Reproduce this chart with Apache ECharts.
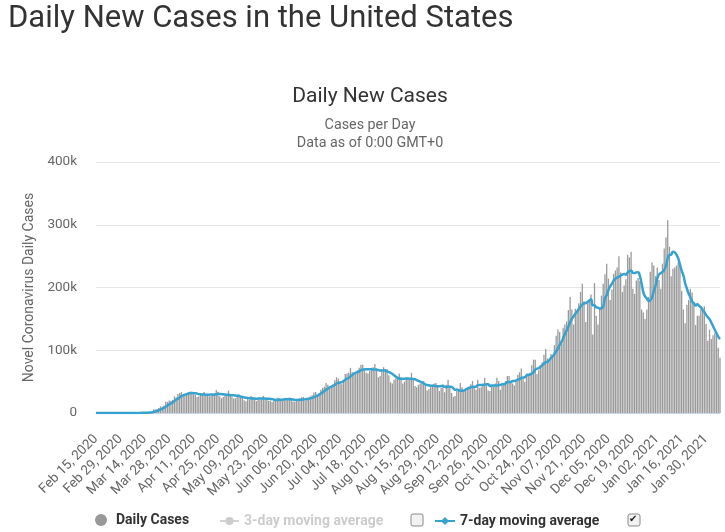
<!DOCTYPE html>
<html>
<head>
<meta charset="utf-8">
<script src="https://cdn.jsdelivr.net/npm/echarts/dist/echarts.min.js"></script>
<style>
html,body{margin:0;padding:0;background:#fff;}
#chart{width:725px;height:532px;}
</style>
</head>
<body>
<div id="chart"></div>
<script>
// Daily new cases (thousands), by month
const cases2020Feb = [0,0,0,0,0,0,0,0,0,0.02,0,0,0,0.01,0.01];
const cases2020Mar = [0.01,0.02,0.02,0.03,0.07,0.05,0.14,0.12,0.07,0.38,0.32,0.38,0.52,0.55,0.77,1.1,1.8,1.4,5.9,5.4,6.4,7.8,10.6,9.9,12.0,18.1,17.8,19.8,19.4,20.9,26.4];
const cases2020Apr = [25.2,30.4,31.8,33.3,28.2,29.6,32.0,32.3,34.0,33.7,29.9,28.9,25.3,26.6,30.5,31.2,33.3,29.0,27.6,26.7,27.4,29.3,31.9,36.6,34.0,26.8,23.5,25.9,27.8,29.3];
const cases2020May = [35.8,29.5,25.3,23.1,23.7,25.4,29.0,27.2,25.4,20.3,18.8,22.7,20.9,27.6,25.4,24.7,18.9,22.6,21.4,21.8,27.4,24.3,23.0,19.6,19.5,17.6,19.3,22.3,24.3,24.1,20.6];
const cases2020Jun = [20.9,21.3,20.4,21.4,24.9,23.0,18.5,17.8,19.6,22.0,23.0,25.0,25.6,19.5,20.8,23.7,26.5,28.1,32.6,33.4,27.5,31.6,37.0,40.0,42.0,48.0,45.0,41.2,40.0,46.0];
const cases2020Jul = [52,57,55,48,46,52,62,63,64,72,65,61,63,68,72,77,77,68,64,63,67,72,73,78,69,57,59,67,73,70,70];
const cases2020Aug = [60,49,47,53,55,58,63,57,47,50,54,56,54,64,55,43,41,45,47,47,51,45,36,38,41,45,47,48,44,35,40];
const cases2020Sep = [45,33,45,53,43,32,26,27,36,37,48,41,36,36,39,42,46,51,43,37,53,40,41,47,56,47,36,35,44,42];
const cases2020Oct = [47,56,51,37,44,45,51,59,59,51,47,44,52,61,65,71,56,50,63,60,64,76,85,85,62,68,76,81,93,102,87];
const cases2020Nov = [81,94,93,108,123,133,129,112,136,141,146,164,185,165,141,166,164,175,193,206,178,145,177,181,189,125,207,155,141,166];
const cases2020Dec = [187,206,221,238,214,180,197,222,227,232,250,224,193,203,213,252,248,257,198,190,211,215,210,165,160,150,165,185,225,240,235];
const cases2021Jan = [218,232,212,198,238,262,280,307,265,218,230,232,235,240,238,195,165,143,172,180,198,192,175,140,155,155,165,167,170,142,115];
const cases2021Feb = [133,118,124,127,130,104,88];

// 7-day moving average (thousands), by month
const avg2020Feb = [0,0,0,0,0,0,0,0,0,0,0,0,0,0,0];
const avg2020Mar = [0,0,0.01,0.01,0.02,0.03,0.05,0.06,0.07,0.12,0.16,0.21,0.28,0.33,0.43,0.57,0.78,0.93,1.72,2.42,3.25,4.26,5.61,6.77,8.29,10.03,11.8,13.71,15.37,16.84,19.2];
const avg2020Apr = [21.09,22.84,24.84,26.77,28.03,29.27,30.07,31.09,31.6,31.87,31.39,31.49,30.87,30.1,29.84,29.44,29.39,29.26,29.07,29.27,29.39,29.21,29.31,29.79,30.5,30.39,29.93,29.71,29.5,29.13];
const avg2020May = [29.01,28.37,28.16,28.1,27.79,27.44,27.4,26.17,25.59,24.87,24.26,24.11,23.47,23.27,23.01,22.91,22.71,23.26,23.07,23.2,23.17,23.01,22.77,22.87,22.43,21.89,21.53,20.8,20.8,20.96,21.1];
const avg2020Jun = [21.3,21.83,21.99,21.86,21.94,21.79,21.49,21.04,20.8,21.03,21.26,21.27,21.64,21.79,22.21,22.8,23.44,24.17,25.26,26.37,27.51,29.06,30.96,32.89,34.87,37.07,38.73,40.69,41.89,43.17];
const avg2020Jul = [44.89,47.03,48.03,48.46,49.14,50.86,53.14,54.71,55.71,58.14,60.57,62.71,64.29,65.14,66.43,68.29,69.0,69.43,69.86,69.86,69.71,69.71,69.14,69.29,69.43,68.43,67.86,67.86,68.0,67.57,66.43];
const avg2020Aug = [65.14,64.0,62.29,60.29,57.71,56.0,55.0,54.57,54.29,54.71,54.86,55.0,54.43,54.57,54.29,53.71,52.43,51.14,49.86,48.86,47.0,45.57,44.57,44.14,43.57,43.29,43.29,42.86,42.71,42.57,42.86];
const avg2020Sep = [43.43,41.71,41.43,42.14,42.0,41.57,39.57,37.0,37.43,36.29,35.57,35.29,35.86,37.29,39.0,39.86,41.14,41.57,41.86,42.0,44.43,44.57,44.43,44.57,45.29,45.86,45.71,43.14,43.71,43.86];
const avg2020Oct = [43.86,43.86,44.43,44.57,45.86,46.0,47.29,49.0,49.43,49.43,50.86,50.86,51.86,53.29,54.14,55.86,56.57,57.0,59.71,60.86,61.29,62.86,64.86,69.0,70.71,71.43,73.71,76.14,78.57,81.0,81.29];
const avg2020Nov = [84.0,87.71,90.14,94.0,98.29,102.71,108.71,113.14,119.14,126.0,131.43,137.29,144.71,149.86,154.0,158.29,161.57,165.71,169.86,172.86,174.71,175.29,176.86,179.29,181.29,171.57,171.71,168.43,167.86,166.29];
const avg2020Dec = [167.14,169.57,183.29,187.71,196.14,201.71,206.14,211.14,214.14,215.71,217.43,218.86,220.71,221.57,220.29,223.86,226.14,227.14,223.43,223.0,224.14,224.43,218.43,206.57,192.71,185.86,182.29,178.57,180.0,184.29,194.29];
const avg2021Jan = [202.57,214.29,221.0,222.86,224.71,227.86,234.29,247.0,251.71,252.57,257.14,256.29,252.43,246.71,236.86,226.86,219.29,206.86,198.29,190.43,184.43,177.86,175.0,171.43,173.14,170.71,168.57,164.14,161.0,156.29,152.71];
const avg2021Feb = [149.57,144.29,138.43,132.71,127.0,121.57,117.71];

// 3-day moving average is switched off in the legend (no points drawn)
const avg3 = [];

const firstDay = '2020-02-15';
const monthNames = ['Jan','Feb','Mar','Apr','May','Jun','Jul','Aug','Sep','Oct','Nov','Dec'];
const yTicks = [0, 100, 200, 300, 400];

const dailyCases = [].concat(cases2020Feb, cases2020Mar, cases2020Apr, cases2020May, cases2020Jun, cases2020Jul,
  cases2020Aug, cases2020Sep, cases2020Oct, cases2020Nov, cases2020Dec, cases2021Jan, cases2021Feb);
const avg7 = [].concat(avg2020Feb, avg2020Mar, avg2020Apr, avg2020May, avg2020Jun, avg2020Jul,
  avg2020Aug, avg2020Sep, avg2020Oct, avg2020Nov, avg2020Dec, avg2021Jan, avg2021Feb);

const t0 = Date.parse(firstDay + 'T00:00:00Z');
const categories = dailyCases.map((_, i) => {
  const d = new Date(t0 + i * 86400000);
  return monthNames[d.getUTCMonth()] + ' ' + String(d.getUTCDate()).padStart(2, '0') + ', ' + d.getUTCFullYear();
});

const FONT = 'Roboto, "Noto Sans", sans-serif';
const chart = echarts.init(document.getElementById('chart'), null, {renderer: 'canvas'});
chart.setOption({
  animation: false,
  backgroundColor: '#fff',
  textStyle: {fontFamily: FONT},
  title: [
    {text: 'Daily New Cases in the United States', left: 8, top: 4, padding: 0,
     textStyle: {fontSize: 31, fontWeight: 'normal', color: '#333', fontFamily: FONT}},
    {text: 'Daily New Cases', left: 370, textAlign: 'center', top: 86, padding: 0,
     textStyle: {fontSize: 21, fontWeight: 'normal', color: '#333', fontFamily: FONT}},
    {text: 'Cases per Day\nData as of 0:00 GMT+0', left: 370, textAlign: 'center', top: 116, padding: 0,
     textStyle: {fontSize: 14.3, fontWeight: 'normal', color: '#666', lineHeight: 18, fontFamily: FONT}}
  ],
  grid: {left: 96, right: 5, top: 162, bottom: 119},
  xAxis: {
    type: 'category', data: categories, boundaryGap: false,
    axisLine: {lineStyle: {color: '#ccd6eb'}},
    axisTick: {show: false},
    axisLabel: {interval: 13, rotate: 45, color: '#666', fontSize: 13.5, margin: 24, fontFamily: FONT}
  },
  yAxis: {
    type: 'value', min: yTicks[0], max: yTicks[yTicks.length - 1], interval: yTicks[1] - yTicks[0],
    name: 'Novel Coronavirus Daily Cases', nameLocation: 'middle', nameGap: 56,
    nameTextStyle: {color: '#666', fontSize: 14, fontFamily: FONT},
    axisLine: {show: false}, axisTick: {show: false},
    axisLabel: {formatter: v => (v === 0 ? '0' : v + 'k'), color: '#666', fontSize: 13.5, margin: 19, fontFamily: FONT},
    splitLine: {lineStyle: {color: '#e6e6e6'}}
  },
  legend: [
    {data: ['Daily Cases'], left: 95, top: 513, padding: 0, icon: 'circle', itemWidth: 20, itemHeight: 12,
     textStyle: {fontSize: 14, fontWeight: 'bold', color: '#333', fontFamily: FONT}},
    {data: ['3-day moving average'], left: 219, top: 514, padding: 0, itemWidth: 19, itemHeight: 10,
     selected: {'3-day moving average': false}, inactiveColor: '#cccccc',
     textStyle: {fontSize: 14, fontWeight: 'bold', color: '#333', fontFamily: FONT}},
    {data: ['7-day moving average'], left: 434, top: 514, padding: 0, itemWidth: 20, itemHeight: 10,
     textStyle: {fontSize: 14, fontWeight: 'bold', color: '#333', fontFamily: FONT}}
  ],
  series: [
    {name: 'Daily Cases', type: 'bar', data: dailyCases, barWidth: 1.3,
     itemStyle: {color: '#999999'}},
    {name: '3-day moving average', type: 'line', data: avg3, symbol: 'circle',
     itemStyle: {color: '#cccccc'}, lineStyle: {color: '#cccccc'}},
    {name: '7-day moving average', type: 'line', data: avg7, smooth: true, showSymbol: false,
     symbol: 'diamond', symbolSize: 8, z: 3,
     lineStyle: {width: 2.5, color: '#35a2cf'}, itemStyle: {color: '#35a2cf'}}
  ],
  graphic: [
    {type: 'rect', shape: {x: 411, y: 514, width: 12, height: 12, r: 2},
     style: {fill: '#f2f2f2', stroke: '#8a8a8a', lineWidth: 1}},
    {type: 'rect', shape: {x: 628, y: 514, width: 12, height: 12, r: 2},
     style: {fill: '#f2f2f2', stroke: '#8a8a8a', lineWidth: 1}},
    {type: 'text', left: 629, top: 514,
     style: {text: '✔', fill: '#222', font: 'bold 10px "DejaVu Sans"'}}
  ]
});
</script>
</body>
</html>
